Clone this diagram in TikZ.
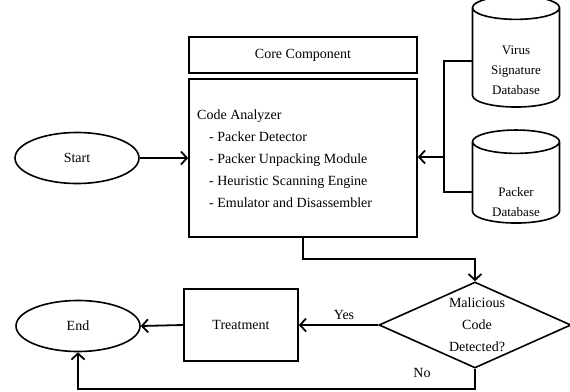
\documentclass[tikz,border=0pt]{standalone}
\usepackage{fontspec}
\setmainfont{Liberation Serif}
\usetikzlibrary{shapes.geometric}
\usetikzlibrary{arrows.meta}
\usetikzlibrary{calc}

\begin{document}
\begin{tikzpicture}[x=1pt,y=-1pt,
    every node/.style={font=\fontsize{14}{22}\selectfont},
    box/.style={draw,line width=1.6pt,inner sep=0pt},
    oval/.style={draw,ellipse,line width=1.6pt,minimum width=124pt,minimum height=51pt},
    base/.style={draw,cylinder,shape border rotate=90,aspect=3.5,line width=1.6pt,minimum width=87pt},
    link/.style={line width=1.8pt},
    flow/.style={link,-{Straight Barb[length=6pt,width=13pt]}}]
    \useasboundingbox (0,0) rectangle (570,391);
    % top part
    \node[oval] (start) at (77,158) {Start};
    \node[box,minimum width=228pt,minimum height=36pt] (core) at (303,55) {Core Component};
    \node[box,minimum width=228pt,minimum height=158pt] (analyzer) at (303,158) {};
    \node[anchor=west,align=left,inner sep=0pt] (modules) at (197,159) {Code Analyzer\\
        \hspace*{12pt}- Packer Detector\\
        \hspace*{12pt}- Packer Unpacking Module\\
        \hspace*{12pt}- Heuristic Scanning Engine\\
        \hspace*{12pt}- Emulator and Disassembler};
    \node[base,minimum height=111pt] (virus) at (516,60) {};
    \node[align=center,font=\fontsize{13}{20}\selectfont] (virustext) at (516,70) {Virus\\Signature\\Database};
    \node[base,minimum height=93pt] (packer) at (516,185) {};
    \node[align=center,font=\fontsize{13}{20}\selectfont] (packertext) at (516,202) {Packer\\Database};
    \coordinate (bustop) at (444,61);
    \coordinate (busmid) at (444,157);
    \coordinate (busbot) at (444,192);
    % bottom part
    \node[draw,diamond,line width=1.6pt,minimum width=192pt,minimum height=86pt,inner sep=0pt] (check) at (475,325) {};
    \node[align=center,inner sep=0pt] (checktext) at (477,325) {Malicious\\Code\\Detected?};
    \node[box,minimum width=114pt,minimum height=72pt] (treat) at (241,325) {Treatment};
    \node[oval] (end) at (78,326) {End};
    \node (yes) at (344,315) {Yes};
    \node (no) at (422,373) {No};
    % connectors
    \draw[flow] (start) -- (analyzer);
    \draw[link] (virus.west |- bustop) -- (bustop) -- (busbot) -- (busbot -| packer.west);
    \draw[flow] (busmid) -- (busmid -| analyzer.east);
    \draw[flow] (analyzer.south) -- ++(0,21) -| (check.north);
    \draw[flow] (check.west) -- (treat.east);
    \draw[flow] (treat.west) -- (end.east);
    \draw[flow] (check.south) -- ++(0,20) -| (end.south);
\end{tikzpicture}
\end{document}
